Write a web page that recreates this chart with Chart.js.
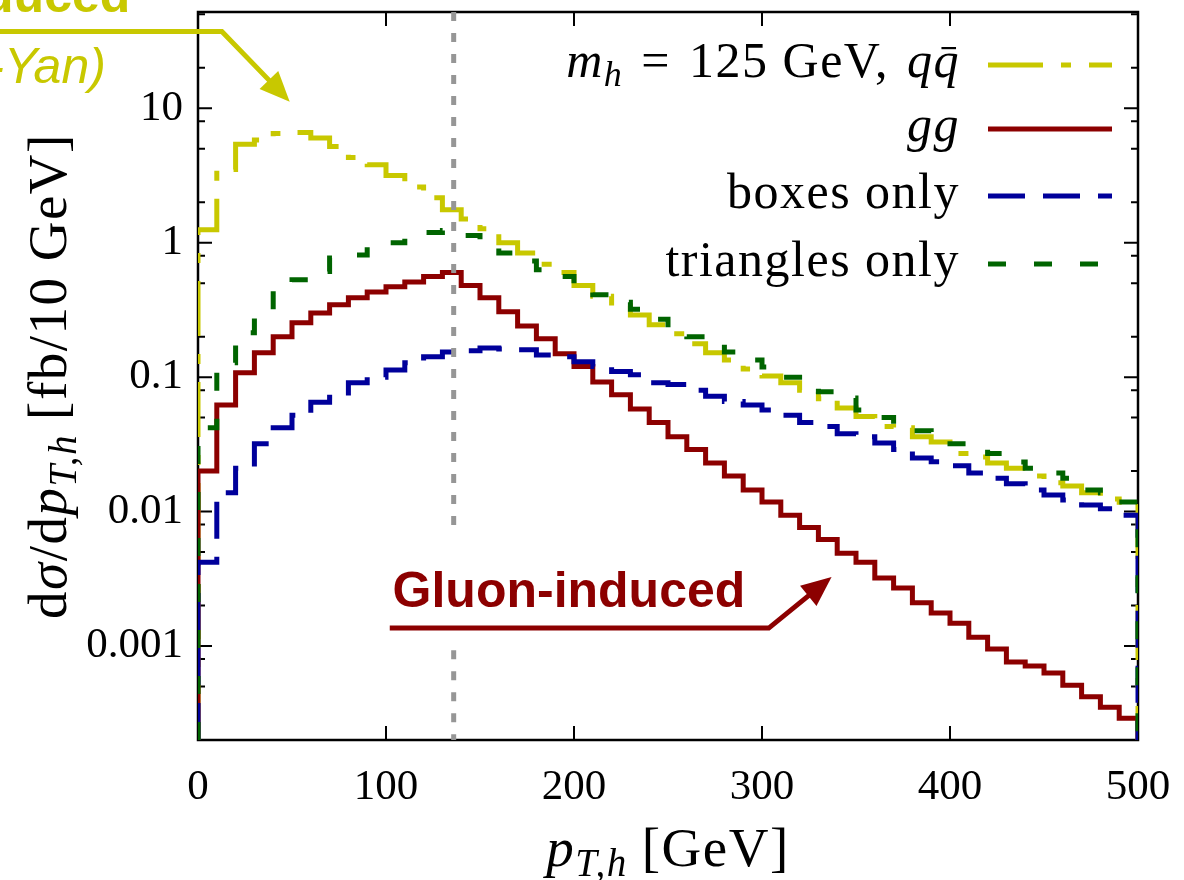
<!DOCTYPE html>
<html>
<head>
<meta charset="utf-8">
<script src="https://cdn.jsdelivr.net/npm/chart.js@4.4.1/dist/chart.umd.min.js"></script>
<style>
  html, body { margin: 0; padding: 0; background: #fff; }
  #wrap { width: 1184px; height: 880px; }
</style>
</head>
<body>
<div id="wrap"><canvas id="ptChart" width="1184" height="880"></canvas></div>
<script>
// bin edges in pT,h [GeV], 10 GeV wide bins
const binEdges = [0, 10, 20, 30, 40, 50, 60, 70, 80, 90,
  100, 110, 120, 130, 140, 150, 160, 170, 180, 190,
  200, 210, 220, 230, 240, 250, 260, 270, 280, 290,
  300, 310, 320, 330, 340, 350, 360, 370, 380, 390,
  400, 410, 420, 430, 440, 450, 460, 470, 480, 490, 500];

// dsigma/dpT [fb/10 GeV]
const qqbar = [1.25, 3.5, 5.4, 5.8, 6.5, 6.6, 6.0, 5.2, 4.3, 3.8,
  3.16, 2.6, 2.16, 1.76, 1.5, 1.27, 1.0, 0.84, 0.69, 0.6,
  0.48, 0.40, 0.34, 0.29, 0.245, 0.21, 0.177, 0.152, 0.134, 0.115,
  0.102, 0.091, 0.08, 0.069, 0.059, 0.051, 0.043, 0.042, 0.036, 0.033,
  0.027, 0.0255, 0.023, 0.021, 0.0184, 0.0164, 0.0155, 0.0138, 0.0124, 0.0109];

const gg = [0.020, 0.062, 0.108, 0.152, 0.20, 0.254, 0.30, 0.345, 0.39, 0.43,
  0.47, 0.51, 0.56, 0.60, 0.48, 0.39, 0.306, 0.24, 0.193, 0.149,
  0.12, 0.092, 0.074, 0.058, 0.046, 0.036, 0.029, 0.023, 0.0184, 0.0145,
  0.0118, 0.0094, 0.0076, 0.0062, 0.0049, 0.0042, 0.0032, 0.0027, 0.0021, 0.00176,
  0.00148, 0.00116, 0.00095, 0.00076, 0.00071, 0.00063, 0.00051, 0.00042, 0.00035, 0.00029];

const boxes = [0.0042, 0.0138, 0.021, 0.032, 0.042, 0.052, 0.065, 0.071, 0.091, 0.10,
  0.113, 0.128, 0.142, 0.154, 0.157, 0.165, 0.162, 0.16, 0.146, 0.142,
  0.13, 0.12, 0.11, 0.104, 0.091, 0.088, 0.08, 0.072, 0.066, 0.062,
  0.057, 0.052, 0.046, 0.043, 0.038, 0.036, 0.0324, 0.029, 0.025, 0.0235,
  0.0219, 0.0194, 0.0177, 0.0161, 0.0145, 0.0133, 0.0122, 0.0112, 0.0105, 0.0094];

const triangles = [0.042, 0.128, 0.214, 0.28, 0.487, 0.53, 0.61, 0.77, 0.81, 0.93,
  1.0, 1.09, 1.19, 1.23, 1.13, 1.02, 0.84, 0.73, 0.63, 0.56,
  0.49, 0.41, 0.36, 0.32, 0.27, 0.23, 0.2, 0.174, 0.154, 0.134,
  0.119, 0.1, 0.092, 0.078, 0.07, 0.057, 0.05, 0.043, 0.04, 0.038,
  0.032, 0.030, 0.027, 0.0234, 0.021, 0.0194, 0.0177, 0.0145, 0.0138, 0.0118];

const xTicks = [0, 100, 200, 300, 400, 500];
const xTickLabels = ['0', '100', '200', '300', '400', '500'];
const yTicks = [0.001, 0.01, 0.1, 1, 10];
const yTickLabels = ['0.001', '0.01', '0.1', '1', '10'];
const yMinorFactors = [2, 5, 8];
const yMin = 0.0002, yMax = 52;

// vertical reference line and where it is hidden behind the label
const markerPt = 136;
const markerGap = [0.0067, 0.00093];

// annotation arrows, in data coordinates
const gluonArrow = [[102, 0.00136], [303.6, 0.00136], [337, 0.00326]];
const quarkArrow = [[-110, 37.3], [12.7, 37.3], [48.8, 11.2]];

const yellow = 'rgb(200,200,0)';
const red = 'rgb(140,0,0)';
const blue = 'rgb(0,0,155)';
const green = 'rgb(0,100,0)';

function histPoints(vals) {
  const pts = [{ x: binEdges[0], y: yMin }];
  vals.forEach((v, i) => pts.push({ x: binEdges[i], y: v }));
  pts.push({ x: binEdges[vals.length], y: vals[vals.length - 1] });
  pts.push({ x: binEdges[vals.length], y: yMin });
  return pts;
}

const series = [
  { data: qqbar, color: yellow, dash: [55, 18, 10, 18], order: 3 },
  { data: gg, color: red, dash: [], order: 2 },
  { data: boxes, color: blue, dash: [37, 18], order: 1 },
  { data: triangles, color: green, dash: [18, 28], order: 0 }
];

const serif = '"Liberation Serif", "Times New Roman", serif';
const rm = s => `${s}px ${serif}`;
const it = s => `italic ${s}px ${serif}`;

// draws a run of differently styled pieces; p.gap adds space before a piece
function drawRich(ctx, parts, x, y, align) {
  let total = 0;
  parts.forEach(p => { ctx.font = p.font; p.w = ctx.measureText(p.t).width; total += p.w + (p.gap || 0); });
  let cx = align === 'right' ? x - total : align === 'center' ? x - total / 2 : x;
  parts.forEach(p => {
    cx += p.gap || 0;
    ctx.font = p.font;
    ctx.fillText(p.t, cx, y + (p.dy || 0));
    if (p.bar) {
      ctx.fillRect(cx + p.w * 0.3, y - p.size * 0.6, p.w * 0.55, 2.2);
    }
    cx += p.w;
  });
}

function drawArrow(ctx, chart, pts, color) {
  const { x, y } = chart.scales;
  const px = pts.map(p => [x.getPixelForValue(p[0]), y.getPixelForValue(p[1])]);
  const n = px.length;
  const [tx, ty] = px[n - 1];
  const [sx, sy] = px[n - 2];
  const ang = Math.atan2(ty - sy, tx - sx);
  const headLen = 30, headHalf = 13;
  ctx.save();
  ctx.strokeStyle = color; ctx.fillStyle = color;
  ctx.lineWidth = 5; ctx.lineJoin = 'miter';
  ctx.beginPath();
  ctx.moveTo(px[0][0], px[0][1]);
  for (let i = 1; i < n - 1; i++) ctx.lineTo(px[i][0], px[i][1]);
  ctx.lineTo(tx - Math.cos(ang) * headLen * 0.8, ty - Math.sin(ang) * headLen * 0.8);
  ctx.stroke();
  ctx.beginPath();
  ctx.moveTo(tx, ty);
  ctx.lineTo(tx - Math.cos(ang) * headLen - Math.sin(ang) * headHalf, ty - Math.sin(ang) * headLen + Math.cos(ang) * headHalf);
  ctx.lineTo(tx - Math.cos(ang) * headLen + Math.sin(ang) * headHalf, ty - Math.sin(ang) * headLen - Math.cos(ang) * headHalf);
  ctx.closePath();
  ctx.fill();
  ctx.restore();
}

const framePlugin = {
  id: 'framePlugin',
  beforeDatasetsDraw(chart) {
    const { ctx, chartArea: a, scales: { x, y } } = chart;
    ctx.save();
    ctx.strokeStyle = '#000';
    ctx.lineWidth = 2;
    ctx.beginPath();
    // inner tick marks on all four sides
    xTicks.forEach(v => {
      const px = x.getPixelForValue(v);
      ctx.moveTo(px, a.bottom); ctx.lineTo(px, a.bottom - 14);
      ctx.moveTo(px, a.top); ctx.lineTo(px, a.top + 14);
    });
    yTicks.forEach(v => {
      const py = y.getPixelForValue(v);
      ctx.moveTo(a.left, py); ctx.lineTo(a.left + 14, py);
      ctx.moveTo(a.right, py); ctx.lineTo(a.right - 14, py);
      yMinorFactors.forEach(f => {
        [v * f / 10, v * f].forEach(m => {
          if (m <= yMin || m >= yMax) return;
          const pm = y.getPixelForValue(m);
          ctx.moveTo(a.left, pm); ctx.lineTo(a.left + 7, pm);
          ctx.moveTo(a.right, pm); ctx.lineTo(a.right - 7, pm);
        });
      });
    });
    ctx.stroke();
    ctx.lineWidth = 2.5;
    ctx.strokeRect(a.left, a.top, a.right - a.left, a.bottom - a.top);
    ctx.restore();
  },
  afterDatasetsDraw(chart) {
    const { ctx, chartArea: a, scales: { x, y } } = chart;
    ctx.save();
    ctx.strokeStyle = 'rgb(150,150,150)';
    ctx.lineWidth = 5;
    ctx.setLineDash([9, 12]);
    const vx = x.getPixelForValue(markerPt);
    ctx.beginPath();
    ctx.moveTo(vx, a.top); ctx.lineTo(vx, y.getPixelForValue(markerGap[0]));
    ctx.moveTo(vx, y.getPixelForValue(markerGap[1])); ctx.lineTo(vx, a.bottom);
    ctx.stroke();
    ctx.setLineDash([]);

    // annotations
    ctx.fillStyle = red;
    ctx.font = 'bold 50px "Liberation Sans", Arial, sans-serif';
    ctx.textAlign = 'left';
    ctx.fillText('Gluon-induced', x.getPixelForValue(103.5), y.getPixelForValue(0.00195));
    drawArrow(ctx, chart, gluonArrow, red);

    ctx.fillStyle = yellow;
    ctx.textAlign = 'right';
    ctx.font = 'bold 50px "Liberation Sans", Arial, sans-serif';
    ctx.fillText('Quark-induced', x.getPixelForValue(-36), y.getPixelForValue(51.6));
    ctx.font = 'italic 50px "Liberation Sans", Arial, sans-serif';
    ctx.fillText('(Drell-Yan)', x.getPixelForValue(-49), y.getPixelForValue(15.5));
    drawArrow(ctx, chart, quarkArrow, yellow);

    // legend
    ctx.textAlign = 'left';
    ctx.fillStyle = '#000';
    ctx.letterSpacing = '1.5px';
    const legendRows = [
      [{ t: 'm', font: it(50) }, { t: 'h', font: it(36), dy: 9 }, { t: '=', font: rm(50), gap: 18 },
       { t: '125 GeV,', font: rm(50), gap: 18 },
       { t: 'q', font: it(50), gap: 18 }, { t: 'q', font: it(50), bar: true, size: 50 }],
      [{ t: 'gg', font: it(50) }],
      [{ t: 'boxes only', font: rm(50) }],
      [{ t: 'triangles only', font: rm(50) }]
    ];
    const rowY = [65, 129, 196, 264];
    legendRows.forEach((parts, i) => {
      ctx.fillStyle = '#000';
      drawRich(ctx, parts, 960, rowY[i] + 12, 'right');
      ctx.strokeStyle = series[i].color;
      ctx.lineWidth = 5;
      ctx.setLineDash(series[i].dash);
      ctx.beginPath();
      ctx.moveTo(988, rowY[i]); ctx.lineTo(1112, rowY[i]);
      ctx.stroke();
    });
    ctx.setLineDash([]);

    // axis titles
    ctx.fillStyle = '#000';
    drawRich(ctx, [
      { t: 'p', font: it(55) }, { t: 'T,h', font: it(39), dy: 10 }, { t: '[GeV]', font: rm(55), gap: 14 }
    ], (a.left + a.right) / 2, 866, 'center');

    ctx.translate(66, (a.top + a.bottom) / 2);
    ctx.rotate(-Math.PI / 2);
    drawRich(ctx, [
      { t: 'd', font: rm(55) }, { t: 'σ', font: it(55) }, { t: '/d', font: rm(55) },
      { t: 'p', font: it(55) }, { t: 'T,h', font: it(39), dy: 10 }, { t: '[fb/10 GeV]', font: rm(55), gap: 14 }
    ], 0, 0, 'center');
    ctx.restore();
  }
};

new Chart(document.getElementById('ptChart'), {
  type: 'line',
  data: {
    datasets: series.map(s => ({
      data: histPoints(s.data),
      borderColor: s.color,
      borderWidth: 5,
      borderDash: s.dash,
      stepped: 'before',
      pointRadius: 0,
      fill: false,
      order: s.order
    }))
  },
  options: {
    responsive: false,
    animation: false,
    layout: { padding: { left: 0, right: 46, top: 12, bottom: 0 } },
    plugins: { legend: { display: false }, tooltip: { enabled: false } },
    scales: {
      x: {
        type: 'linear', min: 0, max: 500,
        afterBuildTicks: s => { s.ticks = xTicks.map(v => ({ value: v })); },
        afterFit: s => { s.height = 140; s.paddingLeft = 0; s.paddingRight = 0; },
        grid: { display: false, drawTicks: false },
        border: { display: false },
        ticks: {
          font: { family: 'Liberation Serif', size: 43 }, color: '#000',
          padding: 22, maxRotation: 0, autoSkip: false,
          callback: (v, i) => xTickLabels[i]
        }
      },
      y: {
        type: 'logarithmic', min: yMin, max: yMax,
        afterBuildTicks: s => { s.ticks = yTicks.map(v => ({ value: v })); },
        afterFit: s => { s.width = 198; s.paddingTop = 0; s.paddingBottom = 0; },
        grid: { display: false, drawTicks: false },
        border: { display: false },
        ticks: {
          font: { family: 'Liberation Serif', size: 43 }, color: '#000',
          padding: 15, autoSkip: false,
          callback: (v, i) => yTickLabels[i]
        }
      }
    }
  },
  plugins: [framePlugin]
});
</script>
</body>
</html>
